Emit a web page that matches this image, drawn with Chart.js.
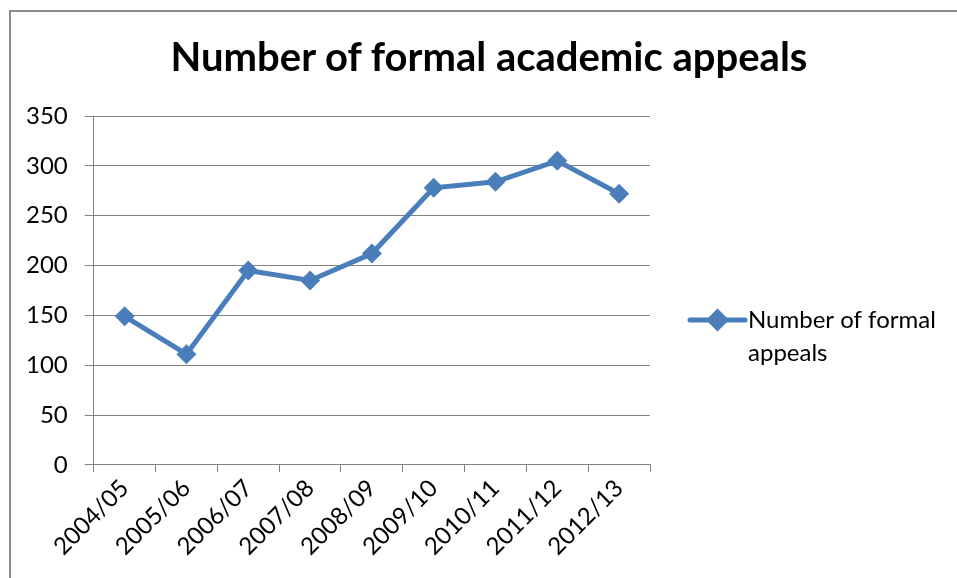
<!doctype html>
<html>
<head>
<meta http-equiv="Content-Type" content="text/html;charset=utf-8" />
<title>Number of formal academic appeals</title>
<script src="https://cdn.jsdelivr.net/npm/chart.js@4.4.0/dist/chart.umd.min.js"></script>
<style>
html, body { margin: 0; padding: 0; background: #fff; overflow: hidden; }
#frame {
position: absolute;
left: 9px;
top: 10px;
width: 1000px;
height: 700px;
border-left: 2px solid #8c8c8c;
border-top: 2px solid #8c8c8c;
}
#heading {
position: absolute;
left: 0;
width: 978px;
top: 32px;
text-align: center;
font: bold 40px Lato, sans-serif;
color: #000;
}
#wrap {
position: absolute;
left: 0;
top: 0;
width: 957px;
height: 578px;
}
</style>
</head>
<body>
<div id="frame"></div>
<div id="wrap"><canvas id="myChart"></canvas></div>
<div id="heading">Number of formal academic appeals</div>

<script type="text/javascript">
// data
var years = ['2004/05', '2005/06', '2006/07', '2007/08', '2008/09', '2009/10', '2010/11', '2011/12', '2012/13'];
var appeals = [149, 111, 195, 185, 212, 278, 284, 305, 272];
var seriesName = 'Number of formal appeals';
var seriesLines = ['Number of formal', 'appeals'];
var yMax = 350;
var yStep = 50;

var blue = '#4a7ebb';
var gridGrey = '#828282';

// legend drawn by hand so the label can wrap onto two lines like the original
var sideLegend = {
  id: 'sideLegend',
  afterDraw: function(chart) {
    var ctx = chart.ctx;
    var ds = chart.data.datasets[0];
    var x0 = 690, x1 = 745, y = 320;
    ctx.save();
    ctx.strokeStyle = ds.borderColor;
    ctx.lineWidth = ds.borderWidth;
    ctx.lineCap = 'round';
    ctx.beginPath();
    ctx.moveTo(x0, y);
    ctx.lineTo(x1, y);
    ctx.stroke();
    Chart.helpers.drawPoint(ctx, {pointStyle: 'rectRot', radius: 8, borderWidth: 1}, (x0 + x1) / 2, y);
    ctx.fillStyle = ds.backgroundColor;
    ctx.fill();
    ctx.fillStyle = '#000';
    ctx.font = '24px Lato, sans-serif';
    ctx.textBaseline = 'middle';
    for (var i = 0; i < seriesLines.length; i++) {
      ctx.fillText(seriesLines[i], 748, y + i * 33);
    }
    ctx.restore();
  }
};

var ctx = document.getElementById('myChart').getContext('2d');
var chart = new Chart(ctx, {
    type: 'line',
    data: {
        labels: years,
        datasets: [{
            label: seriesName,
            data: appeals,
            fill: false,
            borderColor: blue,
            backgroundColor: blue,
            borderWidth: 5,
            tension: 0,
            pointStyle: 'rectRot',
            pointRadius: 10,
            pointHoverRadius: 10,
            pointBorderWidth: 0,
            pointBackgroundColor: blue,
            pointBorderColor: blue
        }]
    },
    options: {
        responsive: true,
        maintainAspectRatio: false,
        animation: false,
        layout: { padding: { left: 9, right: 307, top: 116, bottom: 15 } },
        plugins: {
            legend: { display: false },
            title: { display: false },
            tooltip: { enabled: false }
        },
        scales: {
            x: {
                offset: true,
                grid: {
                    offset: true,
                    drawOnChartArea: false,
                    drawTicks: true,
                    tickLength: 7,
                    color: gridGrey
                },
                border: { color: gridGrey, width: 1 },
                ticks: {
                    color: '#000',
                    font: { family: 'Lato', size: 24 },
                    minRotation: 45,
                    maxRotation: 45,
                    autoSkip: false,
                    padding: 2
                }
            },
            y: {
                min: 0,
                max: yMax,
                grid: {
                    color: gridGrey,
                    tickLength: 9
                },
                border: { color: gridGrey, width: 1 },
                ticks: {
                    stepSize: yStep,
                    color: '#000',
                    font: { family: 'Lato', size: 24 },
                    padding: 17
                }
            }
        }
    },
    plugins: [sideLegend]
});
</script>
</body>
</html>
